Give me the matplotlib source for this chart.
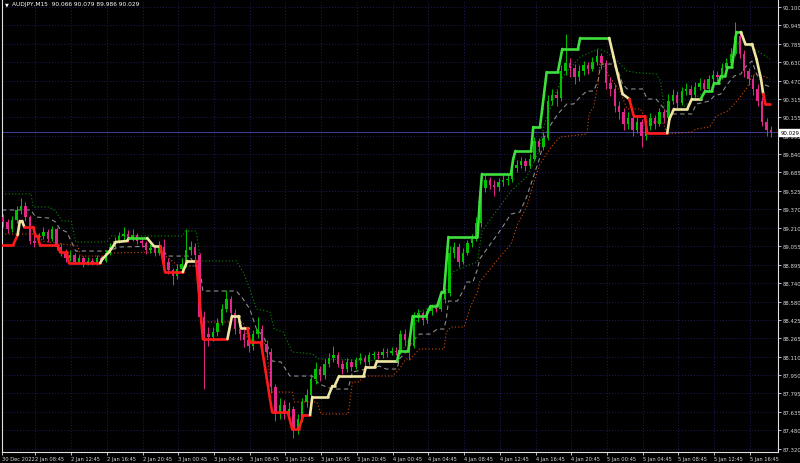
import matplotlib
matplotlib.use('Agg')
import matplotlib.pyplot as plt
from matplotlib.collections import LineCollection

# ---------------- data ----------------
title_text = "AUDJPY,M15  90.066 90.079 89.986 90.029"
last_price = 90.029

# 30-minute candles (each spans two M15 bar slots)
first_open = 89.30
closes = [89.26, 89.20, 89.28, 89.36, 89.40, 89.30, 89.10, 89.08, 89.14, 89.18,
          89.12, 89.20, 89.05, 89.00, 88.95, 88.98, 88.92, 88.95, 88.90, 88.93,
          88.90, 88.95, 88.93, 89.00, 89.05, 89.10, 89.14, 89.16, 89.12, 89.15,
          89.10, 89.08, 89.02, 89.04, 89.00, 89.05, 88.92, 88.85, 88.80, 88.86,
          88.90, 89.02, 89.05, 88.98, 88.45, 88.30, 88.28, 88.32, 88.40, 88.52,
          88.60, 88.48, 88.35, 88.30, 88.25, 88.20, 88.30, 88.35, 88.22, 88.15,
          87.85, 87.62, 87.70, 87.62, 87.66, 87.50, 87.58, 87.72, 87.78, 87.92,
          88.00, 87.95, 88.05, 88.10, 88.12, 88.05, 88.00, 88.06, 88.02, 88.08,
          88.10, 88.06, 88.12, 88.13, 88.12, 88.15, 88.14, 88.16, 88.15, 88.30,
          88.25, 88.20, 88.45, 88.48, 88.42, 88.50, 88.53, 88.52, 88.60, 88.65,
          89.00, 89.05, 88.92, 89.00, 89.08, 89.12, 89.25, 89.55, 89.62, 89.58,
          89.56, 89.60, 89.62, 89.63, 89.72, 89.75, 89.78, 89.74, 89.80, 89.95,
          89.90, 89.98, 90.30, 90.35, 90.32, 90.55, 90.62, 90.58, 90.50, 90.55,
          90.60, 90.57, 90.63, 90.68, 90.62, 90.45, 90.40, 90.25, 90.20, 90.10,
          90.15, 90.05, 90.12, 90.00, 90.08, 90.15, 90.10, 90.20, 90.15, 90.30,
          90.35, 90.28, 90.38, 90.40, 90.35, 90.42, 90.45, 90.40, 90.48, 90.52,
          90.50, 90.58, 90.62, 90.70, 90.85, 90.70, 90.55, 90.48, 90.40, 90.30,
          90.12, 90.05, 90.029]
highs = [89.33, 89.29, 89.31, 89.40, 89.47, 89.43, 89.32, 89.15, 89.17, 89.22,
         89.20, 89.23, 89.22, 89.08, 89.03, 89.02, 89.00, 88.98, 88.97, 88.96,
         88.95, 88.98, 88.97, 89.02, 89.08, 89.13, 89.18, 89.22, 89.19, 89.20,
         89.17, 89.13, 89.10, 89.07, 89.06, 89.10, 89.12, 88.95, 88.87, 88.90,
         88.95, 89.20, 89.10, 89.08, 89.00, 88.50, 88.36, 88.36, 88.44, 88.56,
         88.68, 88.63, 88.52, 88.40, 88.34, 88.30, 88.34, 88.45, 88.38, 88.25,
         88.18, 87.88, 87.76, 87.74, 87.72, 87.69, 87.62, 87.76, 87.83, 87.96,
         88.06, 88.03, 88.09, 88.14, 88.20, 88.15, 88.08, 88.10, 88.09, 88.11,
         88.14, 88.12, 88.15, 88.16, 88.16, 88.18, 88.18, 88.19, 88.19, 88.34,
         88.35, 88.28, 88.49, 88.52, 88.50, 88.53, 88.56, 88.56, 88.64, 88.70,
         89.06, 89.09, 89.08, 89.04, 89.11, 89.16, 89.30, 89.60, 89.66, 89.65,
         89.62, 89.64, 89.66, 89.67, 89.76, 89.79, 89.82, 89.81, 89.84, 89.99,
         89.98, 90.03, 90.35, 90.40, 90.39, 90.60, 90.87, 90.66, 90.61, 90.60,
         90.64, 90.63, 90.67, 90.74, 90.71, 90.65, 90.50, 90.44, 90.30, 90.24,
         90.20, 90.18, 90.16, 90.14, 90.12, 90.19, 90.18, 90.24, 90.23, 90.36,
         90.40, 90.38, 90.42, 90.45, 90.43, 90.46, 90.49, 90.48, 90.52, 90.56,
         90.55, 90.62, 90.66, 90.75, 90.97, 90.88, 90.73, 90.58, 90.52, 90.44,
         90.33, 90.15, 90.079]
lows = [89.22, 89.17, 89.18, 89.25, 89.33, 89.27, 89.07, 89.05, 89.06, 89.12,
        89.09, 89.10, 89.02, 88.97, 88.92, 88.93, 88.90, 88.91, 88.88, 88.89,
        88.89, 88.89, 88.91, 88.92, 88.98, 89.03, 89.08, 89.11, 89.09, 89.10,
        89.07, 89.05, 88.99, 89.00, 88.97, 88.98, 88.90, 88.82, 88.72, 88.77,
        88.84, 88.88, 88.98, 88.94, 88.40, 87.83, 88.20, 88.24, 88.29, 88.38,
        88.49, 88.44, 88.30, 88.25, 88.19, 88.15, 88.17, 88.27, 88.18, 88.10,
        87.80, 87.56, 87.58, 87.58, 87.59, 87.41, 87.45, 87.55, 87.68, 87.75,
        87.88, 87.90, 87.92, 88.02, 88.06, 88.02, 87.96, 87.98, 87.99, 88.00,
        88.05, 88.03, 88.04, 88.09, 88.09, 88.10, 88.11, 88.12, 88.12, 88.13,
        88.20, 88.08, 88.18, 88.41, 88.38, 88.40, 88.47, 88.49, 88.50, 88.57,
        88.63, 88.95, 88.88, 88.90, 88.98, 89.05, 89.10, 89.22, 89.52, 89.54,
        89.48, 89.53, 89.57, 89.58, 89.60, 89.69, 89.72, 89.70, 89.72, 89.78,
        89.86, 89.88, 89.96, 90.26, 90.25, 90.30, 90.52, 90.50, 90.44, 90.47,
        90.52, 90.53, 90.55, 90.60, 90.57, 90.40, 90.34, 90.20, 90.14, 90.05,
        90.06, 90.00, 90.02, 89.90, 89.96, 90.05, 90.06, 90.08, 90.11, 90.13,
        90.27, 90.24, 90.26, 90.35, 90.31, 90.33, 90.39, 90.37, 90.38, 90.45,
        90.46, 90.48, 90.55, 90.60, 90.68, 90.66, 90.50, 90.43, 90.35, 90.25,
        90.08, 90.00, 89.986]

# thick trend-stop line: vertices (bar index, price) and colour of the segment that starts there
stop_bar = [0, 5, 7, 8, 9, 10, 14, 15, 16, 17, 25, 26, 29, 30, 44, 45, 48, 51, 56, 57,
            65, 68, 71, 73, 81, 83, 87, 90, 101, 103, 106, 107, 110, 111, 116, 121,
            128, 130, 133, 135, 138, 139, 146, 148, 149, 151, 162, 163, 167, 168,
            177, 178, 182, 184, 190, 192, 195, 197, 198, 200, 213, 214, 215, 228,
            229, 230, 237, 238, 241, 242, 244, 249, 251, 258, 259, 272, 274, 275,
            278, 281, 283, 288, 289, 298, 299, 301, 307, 309, 313, 315, 318, 319,
            321, 322, 324, 325, 327, 329, 331, 333, 336, 338, 340, 341, 342, 344]
stop_price = [89.065, 89.065, 89.150, 89.270, 89.270, 89.219, 89.219, 89.142, 89.142, 89.065,
              89.065, 89.005, 89.005, 88.911, 88.911, 88.945, 89.005, 89.090, 89.099, 89.124,
              89.124, 89.056, 89.056, 88.834, 88.834, 88.928, 88.928, 88.261, 88.261, 88.457,
              88.457, 88.355, 88.355, 88.235, 88.235, 87.636, 87.636, 87.491, 87.491, 87.611,
              87.611, 87.765, 87.765, 87.859, 87.859, 87.944, 87.944, 88.021, 88.021, 88.073,
              88.073, 88.158, 88.158, 88.457, 88.457, 88.543, 88.543, 88.663, 88.663, 89.133,
              89.133, 89.432, 89.672, 89.672, 89.800, 89.869, 89.869, 90.074, 90.074, 90.228,
              90.544, 90.544, 90.741, 90.741, 90.835, 90.835, 90.672, 90.587, 90.356, 90.313,
              90.168, 90.168, 90.022, 90.022, 90.142, 90.228, 90.228, 90.313, 90.313, 90.382,
              90.382, 90.450, 90.450, 90.510, 90.510, 90.587, 90.587, 90.886, 90.886, 90.784,
              90.784, 90.655, 90.484, 90.356, 90.270, 90.270]
stop_color = ['R', 'R', 'Y', 'Y', 'Y', 'R', 'R', 'R', 'R', 'R', 'R', 'R', 'R', 'R', 'Y', 'Y', 'Y', 'Y', 'Y', 'G',
              'Y', 'Y', 'R', 'R', 'Y', 'Y', 'R', 'R', 'Y', 'Y', 'Y', 'Y', 'R', 'R', 'R', 'R',
              'R', 'R', 'R', 'R', 'Y', 'Y', 'Y', 'Y', 'Y', 'Y', 'Y', 'Y', 'Y', 'Y',
              'G', 'G', 'G', 'G', 'G', 'G', 'G', 'G', 'G', 'G', 'G', 'G', 'G', 'G',
              'G', 'G', 'G', 'G', 'G', 'G', 'G', 'G', 'G', 'G', 'G', 'Y', 'Y', 'Y',
              'Y', 'R', 'R', 'R', 'R', 'Y', 'Y', 'Y', 'Y', 'Y', 'G', 'G', 'G', 'G',
              'G', 'G', 'G', 'G', 'G', 'G', 'Y', 'Y', 'Y', 'Y', 'Y', 'R', 'R', 'R']

# upper dotted (green) line
upper_bar = [0, 13, 14, 21, 24, 27, 31, 33, 47, 49, 81, 82, 87, 89, 105, 108, 111, 114, 120, 122,
             126, 130, 139, 142, 177, 181, 185, 187, 193, 198, 202, 208, 213, 215, 228, 235, 240,
             243, 248, 251, 259, 267, 271, 277, 280, 286, 293, 295, 297, 304, 311, 317, 322, 326,
             329, 333, 337, 342, 344]
upper_price = [89.501, 89.501, 89.390, 89.390, 89.355, 89.270, 89.270, 89.090, 89.090, 89.142,
               89.142, 89.184, 89.184, 88.928, 88.928, 88.834, 88.688, 88.517, 88.492, 88.346,
               88.320, 88.150, 88.132, 88.090, 88.073, 88.218, 88.372, 88.492, 88.543, 88.603,
               88.834, 88.885, 88.919, 89.184, 89.526, 89.646, 89.843, 90.099, 90.356, 90.501,
               90.672, 90.741, 90.715, 90.612, 90.552, 90.535, 90.527, 90.467, 90.202, 90.228,
               90.330, 90.399, 90.484, 90.587, 90.784, 90.801, 90.741, 90.681, 90.655]

# middle dashed (grey) line
mid_bar = [0, 13, 15, 21, 24, 26, 29, 31, 33, 48, 52, 71, 74, 84, 89, 90, 105, 108, 111, 114,
           117, 119, 121, 125, 127, 129, 139, 142, 148, 155, 157, 169, 172, 177, 178, 181, 184,
           187, 192, 195, 198, 199, 200, 204, 207, 208, 211, 213, 214, 223, 228, 232, 235, 238,
           241, 243, 246, 249, 253, 256, 259, 262, 265, 267, 268, 269, 274, 276, 278, 280, 287,
           289, 293, 296, 299, 309, 311, 317, 319, 322, 325, 328, 331, 333, 336, 338, 341, 344]
mid_price = [89.364, 89.364, 89.304, 89.295, 89.261, 89.201, 89.175, 89.098, 89.013, 89.013,
             89.047, 89.056, 88.970, 88.970, 88.816, 88.671, 88.671, 88.603, 88.517, 88.346,
             88.286, 88.201, 88.072, 88.064, 88.004, 87.944, 87.944, 87.876, 87.833, 87.833,
             87.978, 88.029, 88.004, 88.004, 88.090, 88.150, 88.243, 88.303, 88.303, 88.346,
             88.346, 88.431, 88.585, 88.585, 88.688, 88.748, 88.748, 88.859, 88.945, 89.184,
             89.329, 89.346, 89.475, 89.646, 89.817, 89.988, 90.099, 90.185, 90.270, 90.270,
             90.330, 90.381, 90.381, 90.467, 90.587, 90.612, 90.612, 90.552, 90.441, 90.399,
             90.399, 90.313, 90.313, 90.244, 90.185, 90.185, 90.270, 90.296, 90.339, 90.356,
             90.441, 90.510, 90.527, 90.587, 90.638, 90.527, 90.441, 90.416]

# lower dotted (orange) line
lower_bar = [0, 17, 18, 34, 35, 46, 48, 71, 79, 87, 89, 108, 110, 118, 121, 130, 131, 141, 143,
             155, 156, 157, 160, 162, 175, 178, 181, 183, 187, 198, 199, 201, 207, 210, 213, 214,
             223, 228, 231, 235, 238, 241, 246, 250, 262, 263, 265, 267, 268, 269, 272, 277, 280,
             286, 289, 296, 298, 309, 311, 317, 320, 325, 328, 331, 334, 336, 340, 344]
lower_price = [89.158, 89.158, 89.098, 89.056, 88.970, 88.970, 88.996, 89.004, 88.885, 88.885,
               88.406, 88.406, 88.260, 88.218, 87.807, 87.807, 87.722, 87.722, 87.619, 87.619,
               87.747, 87.893, 87.893, 87.944, 87.944, 88.004, 88.090, 88.090, 88.175, 88.175,
               88.320, 88.363, 88.363, 88.543, 88.662, 88.748, 88.962, 89.073, 89.244, 89.390,
               89.586, 89.757, 89.902, 89.988, 90.014, 90.185, 90.244, 90.441, 90.638, 90.612,
               90.510, 90.373, 90.228, 90.228, 90.116, 90.116, 90.014, 90.031, 90.057, 90.074,
               90.168, 90.210, 90.270, 90.339, 90.416, 90.518, 90.518, 90.484]

# axis ticks
xtick_bars = [0, 15, 31, 47, 63, 79, 95, 111, 127, 143, 159, 175, 191, 207, 223, 239, 255,
              271, 287, 303, 319, 335]
xtick_labels = ["30 Dec 2022", "2 Jan 08:45", "2 Jan 12:45", "2 Jan 16:45", "2 Jan 20:45",
                "3 Jan 00:45", "3 Jan 04:45", "3 Jan 08:45", "3 Jan 12:45", "3 Jan 16:45",
                "3 Jan 20:45", "4 Jan 00:45", "4 Jan 04:45", "4 Jan 08:45", "4 Jan 12:45",
                "4 Jan 16:45", "4 Jan 20:45", "5 Jan 00:45", "5 Jan 04:45", "5 Jan 08:45",
                "5 Jan 12:45", "5 Jan 16:45"]
ytick_labels = ["91.100", "90.945", "90.785", "90.630", "90.470", "90.315", "90.155", "89.995",
                "89.840", "89.685", "89.525", "89.370", "89.210", "89.055", "88.895", "88.740",
                "88.580", "88.425", "88.265", "88.110", "87.950", "87.795", "87.635", "87.480",
                "87.320"]

# ---------------- drawing ----------------
BG = '#000000'
GRID = '#1e1e5a'
TXT = '#d8d8d8'
UP = '#00c000'
DOWN = '#e0288a'
STOP = {'G': '#3ee03e', 'R': '#ff1a1a', 'Y': '#eee6a2'}

plt.rcParams['font.family'] = ['DejaVu Sans Condensed', 'Liberation Sans Narrow', 'DejaVu Sans']
FS_Y = 3.9
FS_X = 3.7

fig = plt.figure(figsize=(8.0, 4.64), dpi=100, facecolor=BG)
ax = fig.add_axes([1.5 / 800, 11.5 / 464, 776 / 800, 451.5 / 464], facecolor=BG)
ax.set_xlim(-0.22, 347.4)
ax.set_ylim(87.2986, 91.1598)

yt = [float(s) for s in ytick_labels]
for y in yt:
    ax.axhline(y, color=GRID, lw=0.7, ls=(0, (1, 2)), zorder=0)
for x in xtick_bars[1:]:
    ax.axvline(x, color=GRID, lw=0.7, ls=(0, (1, 2)), zorder=0)

# indicator lines
ax.plot(upper_bar, upper_price, color='#0a8a0a', lw=0.8, ls=(0, (1, 2)), zorder=2)
ax.plot(mid_bar, mid_price, color='#8c8c8c', lw=0.8, ls=(0, (4, 3)), zorder=2)
ax.plot(lower_bar, lower_price, color='#d24a0a', lw=0.8, ls=(0, (1, 2)), zorder=2)

# last price line
ax.axhline(last_price, color='#3c3c96', lw=0.7, zorder=1)

# candles
opens = [first_open] + closes[:-1]
cx = [2 * k + 0.5 for k in range(len(closes))]
cols = [UP if c >= o else DOWN for o, c in zip(opens, closes)]
ax.vlines(cx, lows, highs, colors=cols, lw=0.7, zorder=3)
bottoms = [min(o, c) for o, c in zip(opens, closes)]
heights = [max(abs(c - o), 0.006) for o, c in zip(opens, closes)]
ax.bar(cx, heights, bottom=bottoms, width=1.1, color=cols, linewidth=0, zorder=3)

# thick stop line
segs, scol = [], []
for i in range(len(stop_bar) - 1):
    segs.append([(stop_bar[i], stop_price[i]), (stop_bar[i + 1], stop_price[i + 1])])
    scol.append(STOP[stop_color[i]])
ax.add_collection(LineCollection(segs, colors=scol, linewidths=1.9,
                                 capstyle='round', joinstyle='round', zorder=4))

# axes styling
for side in ['left', 'bottom', 'right']:
    ax.spines[side].set_color('#e0e0e0')
    ax.spines[side].set_linewidth(0.8)
ax.spines['top'].set_visible(False)

ax.yaxis.tick_right()
ax.set_yticks(yt)
ax.set_yticklabels(ytick_labels)
ax.tick_params(axis='y', colors=TXT, labelsize=FS_Y, length=2, width=0.6, pad=1.5)
ax.set_xticks(xtick_bars)
ax.set_xticklabels(xtick_labels)
ax.tick_params(axis='x', colors=TXT, labelsize=FS_X, length=2, width=0.6, pad=1)
for lab in ax.get_xticklabels():
    lab.set_horizontalalignment('left')

# last price box on the axis
ax.annotate(f"{last_price:.3f}", xy=(1.0, last_price), xycoords=('axes fraction', 'data'),
            xytext=(2.0, 0), textcoords='offset points', ha='left', va='center',
            fontsize=FS_Y, color='black', zorder=10, annotation_clip=False,
            bbox=dict(boxstyle='square,pad=0.2', fc='white', ec='white'))

# title
ax.text(0.004, 0.996, "\u25bc", transform=ax.transAxes, ha='left', va='top',
        fontsize=3.6, color='white', family='DejaVu Sans')
ax.text(0.014, 0.997, title_text, transform=ax.transAxes, ha='left', va='top',
        fontsize=4.2, color='white')

fig.savefig('out.png', dpi=100, facecolor=BG)
